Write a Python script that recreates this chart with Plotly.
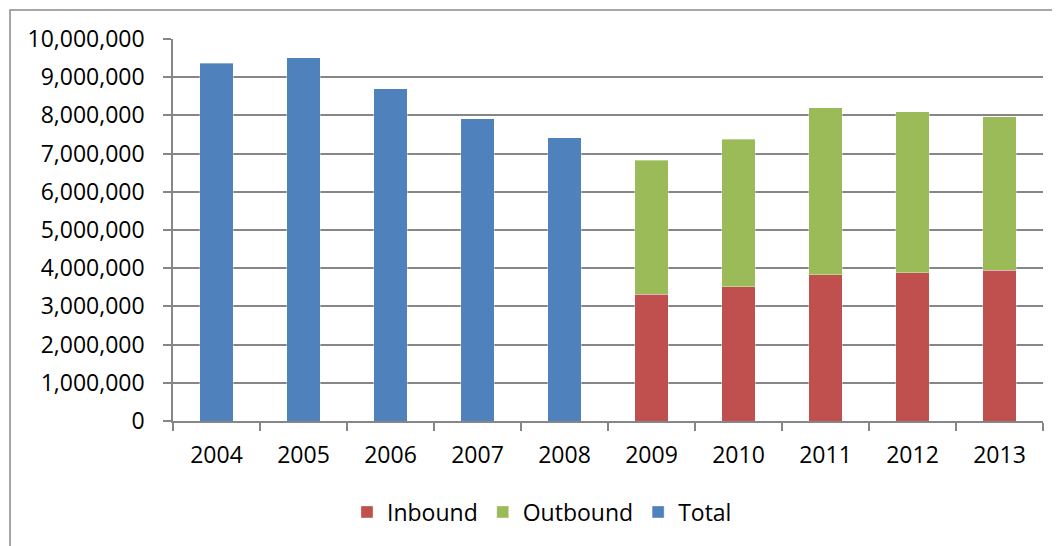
import plotly.graph_objects as go

years = ["2004", "2005", "2006", "2007", "2008", "2009", "2010", "2011", "2012", "2013"]
total_years = ["2004", "2005", "2006", "2007", "2008"]
total_values = [9360000, 9510000, 8700000, 7910000, 7410000]
split_years = ["2009", "2010", "2011", "2012", "2013"]
inbound_values = [3320000, 3520000, 3830000, 3880000, 3950000]
outbound_values = [3500000, 3850000, 4370000, 4210000, 4020000]
y_ticks = list(range(0, 10000001, 1000000))

OFF = 8  # page body margin
W, H = 1052, 538
L, T = 173 - OFF, 39 - OFF
pw, ph = 870, 382
R = W - L - pw
B = H - T - ph

def px_x(p):
    return (p - OFF - L) / pw

def px_y(p):
    return (T + ph - (p - OFF)) / ph

FONT = "Open Sans"
FS = 23
GRID = "#868686"
EDGE = "rgba(255,255,255,0.35)"

fig = go.Figure()
fig.add_trace(go.Bar(x=split_years, y=inbound_values, name="Inbound",
                     marker=dict(color="#C0504D", line=dict(color=EDGE, width=1)),
                     width=0.39))
fig.add_trace(go.Bar(x=split_years, y=outbound_values, name="Outbound",
                     marker=dict(color="#9BBB59", line=dict(color=EDGE, width=1)),
                     width=0.39))
fig.add_trace(go.Bar(x=total_years, y=total_values, name="Total",
                     marker=dict(color="#4F81BD", line=dict(color=EDGE, width=1)),
                     width=0.39))

fig.update_layout(
    width=W, height=H,
    margin=dict(l=L, r=R, t=T, b=B, pad=0, autoexpand=False),
    barmode="stack",
    plot_bgcolor="white", paper_bgcolor="white",
    font=dict(family=FONT, size=FS, color="black"),
    legend=dict(orientation="h", x=px_x(542), xanchor="center",
                y=px_y(512), yanchor="middle",
                font=dict(family=FONT, size=FS, color="black"),
                traceorder="normal", bgcolor="rgba(0,0,0,0)"),
    showlegend=True,
    shapes=[dict(type="rect", xref="paper", yref="paper",
                 x0=px_x(10), x1=px_x(1075), y0=px_y(560), y1=px_y(10),
                 line=dict(color="#8a8a8a", width=1.5), layer="below")],
)

fig.update_xaxes(
    type="category", categoryorder="array", categoryarray=years,
    showline=True, linecolor=GRID, linewidth=1.5,
    ticks="outside", tickson="boundaries", ticklen=8, tickcolor=GRID, tickwidth=1.5,
    showgrid=False, tickfont=dict(family=FONT, size=FS, color="black"),
    ticklabelstandoff=13,
)
fig.update_yaxes(
    range=[0, 10000000], tickvals=y_ticks, tickformat=",d",
    showline=True, linecolor=GRID, linewidth=1.5,
    ticks="outside", ticklen=8, tickcolor=GRID, tickwidth=1.5,
    showgrid=True, gridcolor=GRID, gridwidth=1.5, zeroline=False,
    tickfont=dict(family=FONT, size=FS, color="black"),
    ticklabelstandoff=14,
)

fig.write_html("out.html")
